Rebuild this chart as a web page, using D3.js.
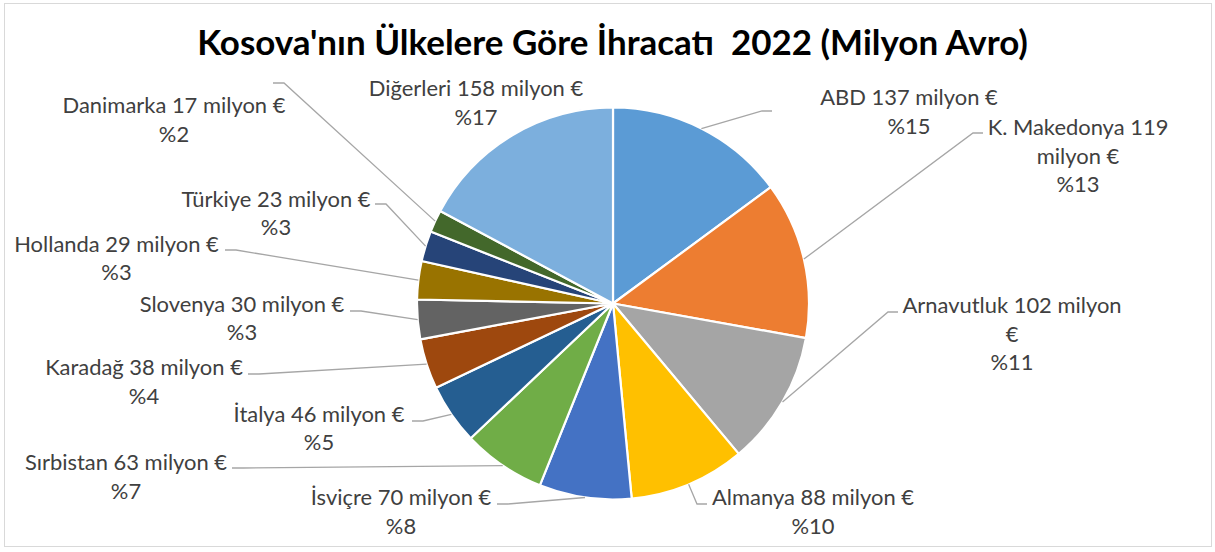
<!DOCTYPE html>
<html><head><meta charset="utf-8">
<script src="https://cdn.jsdelivr.net/npm/d3@7"></script>
<style>body{margin:0;background:#fff;}svg text{white-space:pre;}</style>
</head><body>
<svg id="c" width="1215" height="552"></svg>
<script>
// ---- data ----
const countries = ["ABD","K. Makedonya","Arnavutluk","Almanya","İsviçre","Sırbistan","İtalya","Karadağ","Slovenya","Hollanda","Türkiye","Danimarka","Diğerleri"];
const values = [137,119,102,88,70,63,46,38,30,29,23,17,158];
const colors = ["#5B9BD5","#ED7D31","#A5A5A5","#FFC000","#4472C4","#70AD47","#255E91","#9E480E","#636363","#997300","#264478","#43682B","#7CAFDD"];
const titleText = "Kosova'nın Ülkelere Göre İhracatı  2022 (Milyon Avro)";
const unitText = "milyon €";

// ---- layout (label placement, leader anchors) ----
const labelLayout = [
  {x:909,  y:105,   wrap:240, ax:772, ay:111, side:1},
  {x:1078, y:135,   wrap:200, ax:983, ay:133, side:1},
  {x:1012, y:313,   wrap:232, ax:898, ay:312, side:1},
  {x:813,  y:505,   wrap:240, ax:707, ay:504, side:1},
  {x:401,  y:505,   wrap:240, ax:497, ay:504, side:-1},
  {x:126,  y:470,   wrap:240, ax:232, ay:468, side:-1},
  {x:319,  y:421.5, wrap:240, ax:412, ay:421, side:-1},
  {x:144,  y:375,   wrap:240, ax:248, ay:374, side:-1},
  {x:242,  y:311.5, wrap:240, ax:350, ay:311, side:-1},
  {x:116.5,y:251.5, wrap:240, ax:225, ay:250, side:-1},
  {x:276,  y:206.5, wrap:240, ax:375, ay:204, side:-1},
  {x:174,  y:113,   wrap:240, ax:273, ay:83,  side:-1},
  {x:476,  y:96,    wrap:240, ax:null, ay:null, side:0}
];

const W = 1215, H = 552;
const cx = 613, cy = 303.5, R = 196;
const svg = d3.select("#c");

svg.append("rect").attr("x",4.5).attr("y",3.5).attr("width",1207).attr("height",543)
  .attr("fill","#fff").attr("stroke","#D9D9D9").attr("stroke-width",1);

// font fitting helpers
const LABEL_FONT = "Lato, 'Open Sans', 'DejaVu Sans', sans-serif";
function measure(txt, size, weight){
  const t = svg.append("text").attr("font-family",LABEL_FONT).attr("font-size",size)
    .attr("font-weight",weight).text(txt);
  const w = t.node().getComputedTextLength(); t.remove(); return w;
}
const titleSize = 30 * 831 / measure(titleText, 30, "bold");
const labelSize = 24 * 223 / measure("Danimarka 17 milyon €", 24, "normal");
const lineH = 28.6;

// title
svg.append("text").attr("x",612.5).attr("y",55).attr("text-anchor","middle")
  .attr("font-family",LABEL_FONT).attr("font-weight","bold").attr("font-size",titleSize)
  .attr("fill","#000").text(titleText);

// pie
const total = d3.sum(values);
const pie = d3.pie().sort(null).value(d=>d).startAngle(0).endAngle(2*Math.PI);
const arcs = pie(values);
const arc = d3.arc().innerRadius(0).outerRadius(R);
const g = svg.append("g").attr("transform",`translate(${cx},${cy})`);
g.selectAll("path").data(arcs).join("path")
  .attr("d",arc).attr("fill",(d,i)=>colors[i])
  .attr("stroke","#fff").attr("stroke-width",2.2).attr("stroke-linejoin","round");

// leader lines
const lines = svg.append("g").attr("fill","none").attr("stroke","#A6A6A6").attr("stroke-width",1.3);
arcs.forEach((d,i)=>{
  const L = labelLayout[i];
  if(L.ax===null) return;
  const a = (d.startAngle+d.endAngle)/2;
  const sx = cx + R*Math.sin(a), sy = cy - R*Math.cos(a);
  const bx = L.side>0 ? L.ax-10 : L.ax+11;
  lines.append("path").attr("d",d3.line()([[sx,sy],[bx,L.ay],[L.ax,L.ay]]));
});

// labels
const lab = svg.append("g").attr("font-family",LABEL_FONT).attr("font-size",labelSize)
  .attr("fill","#404040").attr("text-anchor","middle");
arcs.forEach((d,i)=>{
  const L = labelLayout[i];
  const words = (countries[i]+" "+values[i]+" "+unitText).split(" ");
  const rows = []; let cur = "";
  words.forEach(w=>{
    const test = cur ? cur+" "+w : w;
    if(cur && measure(test,labelSize,"normal") > L.wrap){ rows.push(cur); cur = w; }
    else cur = test;
  });
  rows.push(cur);
  rows.push("%"+Math.round(values[i]/total*100));
  const t = lab.append("text").attr("x",L.x).attr("y",L.y);
  rows.forEach((r,k)=>{
    t.append("tspan").attr("x",L.x).attr("y",L.y+k*lineH).text(r);
  });
});
</script>
</body></html>
